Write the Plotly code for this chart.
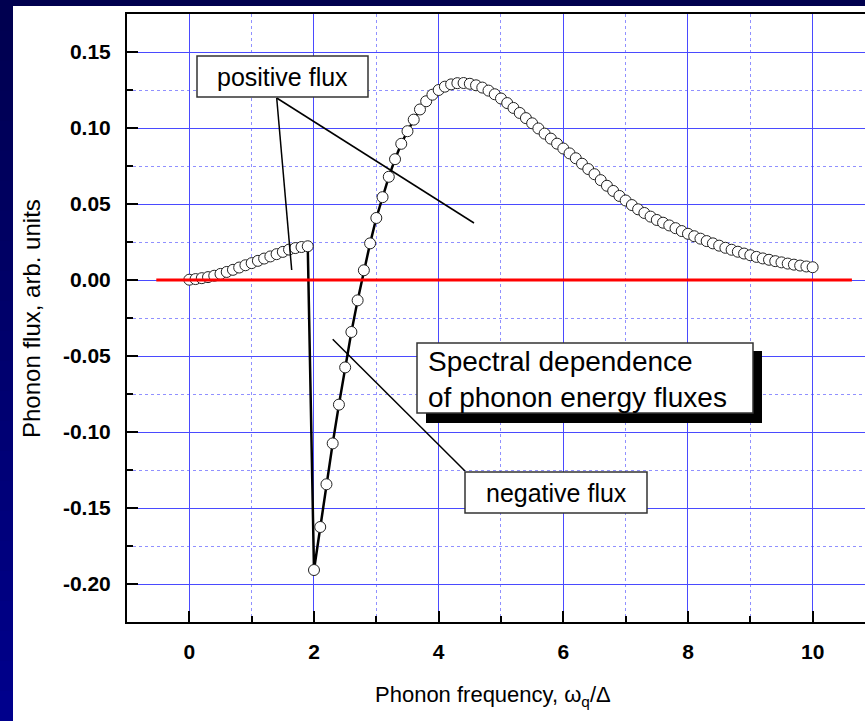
import plotly.graph_objects as go

# ---------------- data ----------------
freq = [0.0, 0.1, 0.2, 0.3, 0.4, 0.5, 0.6, 0.7, 0.8, 0.9,
        1.0, 1.1, 1.2, 1.3, 1.4, 1.5, 1.6, 1.7, 1.8, 1.9,
        2.0, 2.1, 2.2, 2.3, 2.4, 2.5, 2.6, 2.7, 2.8, 2.9,
        3.0, 3.1, 3.2, 3.3, 3.4, 3.5, 3.6, 3.7, 3.8, 3.9,
        4.0, 4.1, 4.2, 4.3, 4.4, 4.5, 4.6, 4.7, 4.8, 4.9,
        5.0, 5.1, 5.2, 5.3, 5.4, 5.5, 5.6, 5.7, 5.8, 5.9,
        6.0, 6.1, 6.2, 6.3, 6.4, 6.5, 6.6, 6.7, 6.8, 6.9,
        7.0, 7.1, 7.2, 7.3, 7.4, 7.5, 7.6, 7.7, 7.8, 7.9,
        8.0, 8.1, 8.2, 8.3, 8.4, 8.5, 8.6, 8.7, 8.8, 8.9,
        9.0, 9.1, 9.2, 9.3, 9.4, 9.5, 9.6, 9.7, 9.8, 9.9,
        10.0]
flux = [0.0002, 0.0006, 0.0012, 0.0019, 0.0028, 0.0040, 0.0053, 0.0067, 0.0082, 0.0097,
        0.0111, 0.0126, 0.0141, 0.0155, 0.0170, 0.0185, 0.0200, 0.0210, 0.0217, 0.0222,
        -0.1908, -0.1625, -0.1344, -0.1075, -0.0820, -0.0575, -0.0342, -0.0134, 0.0064, 0.0241,
        0.0408, 0.0545, 0.0679, 0.0795, 0.0896, 0.0979, 0.1055, 0.1122, 0.1176, 0.1219,
        0.1250, 0.1272, 0.1287, 0.1295, 0.1296, 0.1291, 0.1281, 0.1266, 0.1246, 0.1222,
        0.1194, 0.1164, 0.1132, 0.1099, 0.1065, 0.1031, 0.0997, 0.0963, 0.0930, 0.0897,
        0.0865, 0.0833, 0.0801, 0.0765, 0.0730, 0.0696, 0.0657, 0.0620, 0.0586, 0.0553,
        0.0523, 0.0493, 0.0465, 0.0441, 0.0417, 0.0395, 0.0377, 0.0359, 0.0341, 0.0322,
        0.0304, 0.0288, 0.0272, 0.0256, 0.0241, 0.0226, 0.0212, 0.0199, 0.0186, 0.0174,
        0.0163, 0.0152, 0.0142, 0.0133, 0.0124, 0.0116, 0.0108, 0.0101, 0.0095, 0.0089,
        0.0084]
ref_x = [-0.53, 10.63]
ref_y = [0.0, 0.0]

x_tickvals = [0, 2, 4, 6, 8, 10]
x_ticktext = ["0", "2", "4", "6", "8", "10"]
y_tickvals = [-0.20, -0.15, -0.10, -0.05, 0.00, 0.05, 0.10, 0.15]
y_ticktext = ["-0.20", "-0.15", "-0.10", "-0.05", "0.00", "0.05", "0.10", "0.15"]

# ---------------- geometry helpers ----------------
W, H = 865, 721
L, R, T, B = 127, 0, 14, 99
XR = [-1.0, 10.84]
YR = [-0.225, 0.175]
PW, PH = W - L - R, H - T - B


def dx(px):
    return XR[0] + (px - L) / PW * (XR[1] - XR[0])


def dy(py):
    return YR[1] - (py - T) / PH * (YR[1] - YR[0])


def ppx(px):
    return (px - L) / PW


def ppy(py):
    return (H - B - py) / PH


fig = go.Figure()
fig.add_trace(go.Scatter(
    x=freq, y=flux, mode="lines+markers",
    line=dict(color="black", width=2.5),
    marker=dict(symbol="circle", size=11, color="white",
                line=dict(color="#222222", width=1)),
    showlegend=False, hoverinfo="skip"))
fig.add_trace(go.Scatter(
    x=ref_x, y=ref_y, mode="lines",
    line=dict(color="#ff0000", width=3),
    showlegend=False, hoverinfo="skip"))

shapes = []
# navy frame of the slide (top and left strips)
shapes.append(dict(type="rect", xref="paper", yref="paper",
                   x0=ppx(0), x1=ppx(W), y0=ppy(6), y1=ppy(0),
                   fillcolor="#00004e", line=dict(width=0), layer="above"))
nseg = 24
for i in range(nseg):
    t = i / (nseg - 1)
    b = int(0x50 + t * (0x8c - 0x50))
    shapes.append(dict(type="rect", xref="paper", yref="paper",
                       x0=ppx(0), x1=ppx(13),
                       y0=ppy(H * (i + 1) / nseg + 1), y1=ppy(H * i / nseg),
                       fillcolor="#0000%02x" % b, line=dict(width=0), layer="above"))

# leader lines
for (a, b_, c, d) in [(276.7, 98, 291.7, 270), (276.7, 98, 474, 223), (332.7, 339.3, 465, 471)]:
    shapes.append(dict(type="line", xref="x", yref="y",
                       x0=dx(a), y0=dy(b_), x1=dx(c), y1=dy(d),
                       line=dict(color="black", width=1.5)))

# boxes
box_line = dict(color="#333333", width=1.5)
shapes.append(dict(type="rect", xref="x", yref="y", x0=dx(197), x1=dx(368),
                   y0=dy(97), y1=dy(56), fillcolor="white", line=box_line))
shapes.append(dict(type="rect", xref="x", yref="y", x0=dx(465), x1=dx(647),
                   y0=dy(513), y1=dy(472), fillcolor="white", line=box_line))
shapes.append(dict(type="rect", xref="x", yref="y", x0=dx(426), x1=dx(762),
                   y0=dy(423), y1=dy(351), fillcolor="black", line=dict(width=0)))
shapes.append(dict(type="rect", xref="x", yref="y", x0=dx(417), x1=dx(753),
                   y0=dy(413), y1=dy(343), fillcolor="white", line=box_line))

reg = "Liberation Sans, Arial, sans-serif"
annotations = [
    dict(text="positive flux", xref="x", yref="y", x=dx(282.5), y=dy(77),
         showarrow=False, xanchor="center", yanchor="middle",
         font=dict(family=reg, size=25, color="black")),
    dict(text="negative flux", xref="x", yref="y", x=dx(556), y=dy(493),
         showarrow=False, xanchor="center", yanchor="middle",
         font=dict(family=reg, size=25, color="black")),
    dict(text="Spectral dependence<br>of phonon energy fluxes", xref="x", yref="y",
         x=dx(426), y=dy(379), showarrow=False, xanchor="left", yanchor="middle",
         align="left", font=dict(family=reg, size=28, color="black")),
    dict(text="Phonon flux, arb. units", xref="paper", yref="paper",
         x=ppx(31), y=ppy(318), textangle=-90, showarrow=False,
         xanchor="center", yanchor="middle",
         font=dict(family=reg, size=24, color="black")),
    dict(text="Phonon frequency, ω<sub>q</sub>/Δ", xref="paper", yref="paper",
         x=ppx(493), y=ppy(680), showarrow=False,
         xanchor="center", yanchor="top",
         font=dict(family=reg, size=22, color="black")),
]

tickfont = dict(family=reg, size=21, color="black", weight="bold")
major_grid = "#4a4aff"
minor_grid = "#9090ff"

fig.update_layout(
    width=W, height=H,
    margin=dict(l=L, r=R, t=T, b=B, autoexpand=False),
    paper_bgcolor="white", plot_bgcolor="white",
    shapes=shapes, annotations=annotations,
    xaxis=dict(range=XR, showline=True, linecolor="black", linewidth=2, mirror=True,
               ticks="inside", ticklen=11, tickwidth=2, tickcolor="black",
               tickmode="array", tickvals=x_tickvals, ticktext=x_ticktext,
               tickfont=tickfont, ticklabelstandoff=10,
               showgrid=True, gridcolor=major_grid, gridwidth=1, zeroline=False,
               minor=dict(tick0=0, dtick=1, ticks="inside", ticklen=6, tickwidth=2,
                          tickcolor="black", showgrid=True, gridcolor=minor_grid,
                          griddash="dot", gridwidth=1)),
    yaxis=dict(range=YR, showline=True, linecolor="black", linewidth=2, mirror=False,
               ticks="inside", ticklen=11, tickwidth=2, tickcolor="black",
               tickmode="array", tickvals=y_tickvals, ticktext=y_ticktext,
               tickfont=tickfont, ticklabelstandoff=10,
               showgrid=True, gridcolor=major_grid, gridwidth=1, zeroline=False,
               minor=dict(tick0=0, dtick=0.025, ticks="inside", ticklen=6, tickwidth=2,
                          tickcolor="black", showgrid=True, gridcolor=minor_grid,
                          griddash="dot", gridwidth=1)),
)

fig.write_html(
    "out.html",
    config={"displayModeBar": False},
    post_script="document.body.style.margin='0';"
                "document.body.style.overflow='hidden';"
                "document.documentElement.style.overflow='hidden';",
)
